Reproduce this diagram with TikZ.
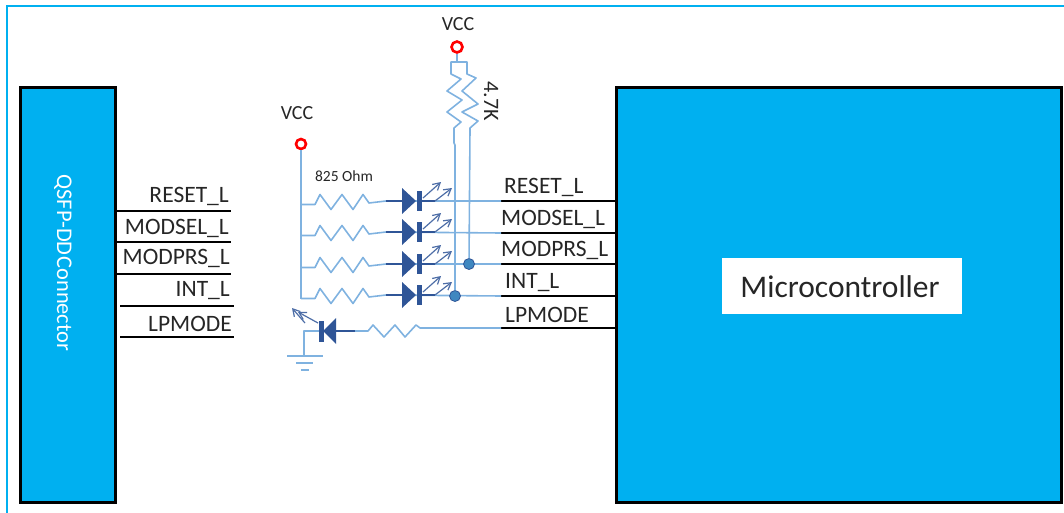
\documentclass[tikz,border=0pt]{standalone}
\usepackage{fontspec}
\setmainfont{Carlito}
\usetikzlibrary{arrows.meta}
\definecolor{boxblue}{HTML}{00B0F0}
\definecolor{wireblue}{HTML}{7FB2E0}
\definecolor{leddark}{HTML}{2F5597}
\definecolor{dotblue}{HTML}{3F87C0}
\tikzstyle{blk}=[draw=black,line width=3pt,fill=boxblue,inner sep=0pt,outer sep=0pt,anchor=north west]
\tikzstyle{sig}=[text=black!85,font=\fontsize{23.5}{23.5}\selectfont,inner sep=0pt]
\tikzstyle{lbl}=[text=black!85,font=\fontsize{20}{20}\selectfont,inner sep=0pt]
\tikzstyle{pin}=[black,line width=1.6pt]
\tikzstyle{wire}=[wireblue,line width=1.6pt,line join=round]
\tikzstyle{drk}=[leddark,line width=1.6pt]
\tikzstyle{vcc}=[circle,draw=red,line width=2.6pt,fill=white,inner sep=0pt,minimum size=10pt]
\tikzstyle{dot}=[circle,draw=leddark,fill=dotblue,line width=.8pt,inner sep=0pt,minimum size=11pt]
\tikzstyle{ray}=[leddark!85,line width=1.2pt,-{Straight Barb[length=7pt,width=8pt]}]
\begin{document}
\begin{tikzpicture}[x=1pt,y=-1pt]
\useasboundingbox (0,0) rectangle (1064,513);
\draw[boxblue,line width=2.5pt] (7,513) -- (7,6) -- (1064,6);
\node[blk,minimum width=95pt,minimum height=414pt] (qsfp) at (20.5,88) {};
\node[blk,minimum width=445pt,minimum height=414pt] (mcu) at (616,88) {};
\node[white,rotate=-90,font=\fontsize{22.4}{22.4}\selectfont,inner sep=0pt] (qsfplbl) at (63,263) {QSFP-DD\kern1pt Connector};
\node[fill=white,minimum width=240pt,minimum height=56pt,inner sep=0pt] (mculbl) at (842,286) {};
\node[text=black!85,font=\fontsize{31.5}{31.5}\selectfont,inner sep=0pt] (mcutxt) at (840,287) {Microcontroller};
% left pins
\foreach \y/\xs/\xe/\tx/\ty/\n/\t in {211/116/231/229/196/a/RESET\_L, 242/116/231/229/228/b/MODSEL\_L, 274/116/231/230/258/c/MODPRS\_L, 306/120/234/230/291/d/INT\_L, 337/120/234/232/324/e/LPMODE} {
  \coordinate (l\n s) at (\xs,\y);
  \coordinate (l\n e) at (\xe,\y);
  \draw[pin] (l\n s) -- (l\n e);
  \node[sig,anchor=east] (l\n) at (\tx,\ty) {\t};}
% right pins
\foreach \y/\tx/\ty/\n/\t in {201/504/187/a/RESET\_L, 233/501/219/b/MODSEL\_L, 264/501/250/c/MODPRS\_L, 296/505/283/d/INT\_L, 328/505/315/e/LPMODE} {
  \coordinate (r\n s) at (501,\y);
  \coordinate (r\n e) at (615,\y);
  \draw[pin] (r\n s) -- (r\n e);
  \node[sig,anchor=west] (r\n) at (\tx,\ty) {\t};}
% VCC rail and LEDs
\node[vcc] (vcca) at (301,144) {};
\node[lbl] (vccatxt) at (297,113) {VCC};
\node[lbl,font=\fontsize{15.5}{15.5}\selectfont] (ohm) at (344,176) {825 Ohm};
\coordinate (rail) at (301,299);
\draw[wire] (vcca) -- (rail);
\foreach \y/\n in {201/a, 232/b, 264/c, 295/d} {
  \coordinate (t\n) at (301,\y+3.5);
  \coordinate (c\n) at (402,\y);
  \draw[wire] (t\n) -- ++(14,0) -- ++(5,-10) -- ++(11,15) -- ++(11,-15) -- ++(11,15) -- ++(10,-15) -- ++(6,8.5) -- (386,\y) -- (r\n s);
  \draw[drk] (386,\y) -- (c\n);
  \fill[leddark] (c\n) ++(0,-13) -- ++(14,13) -- ++(-14,13) -- cycle;
  \fill[leddark] (c\n) ++(15,-10) rectangle ++(4.5,20);
  \draw[drk] (c\n) ++(19,0) -- ++(14,0);
  \draw[ray] (c\n) ++(21,-3) -- ++(18,-16);
  \draw[ray] (c\n) ++(33,0) -- ++(17,-13);}
% LPMODE led
\coordinate (cl) at (336,331);
\node[fill=none,inner sep=0pt] (gnd) at (304,356) {};
\draw[wire] (res) -- (420,328) -- ++(-4,-3) -- ++(-11,12) -- ++(-10,-12) -- ++(-11,12) -- ++(-11,-12) -- (368,331) -- (355,331);
\draw[drk] (355,331) -- (cl);
\fill[leddark] (323,331) -- (336,318) -- (336,344) -- cycle;
\fill[leddark] (319,321) rectangle (323.5,342);
\draw[wire] (319,331) -- (304,331) -- (gnd);
\draw[ray] (305,323) -- (292,308);
\draw[ray] (318,323) -- (298,312);
\draw[wire] (287,356) -- (323,356) (296,363) -- (313,363) (301,370) -- (309,370);
% pull ups
\node[vcc,minimum size=11pt] (vccb) at (457,47) {};
\node[lbl] (vccbtxt) at (458,24) {VCC};
\node[lbl,rotate=-90,font=\fontsize{22}{22}\selectfont] (kohm) at (491,101) {4.7K};
\node[dot] (dotd) at (455,296) {};
\node[dot] (dotc) at (469,264) {};
\coordinate (ta) at (457,62);
\draw[wire] (vccb) -- (ta);
\draw[wire] (ta) -- (451,62) -- (451,74) -- (461,79) -- (447,91) -- (462,100) -- (447,112) -- (461,122) -- (454,128) -- (454,143) -- (455,145) -- (dotd);
\draw[wire] (ta) -- (467,62) -- (467,74) -- (476,78) -- (462,91) -- (478,104) -- (462,112) -- (478,121) -- (470,128) -- (dotc);
\end{tikzpicture}
\end{document}
